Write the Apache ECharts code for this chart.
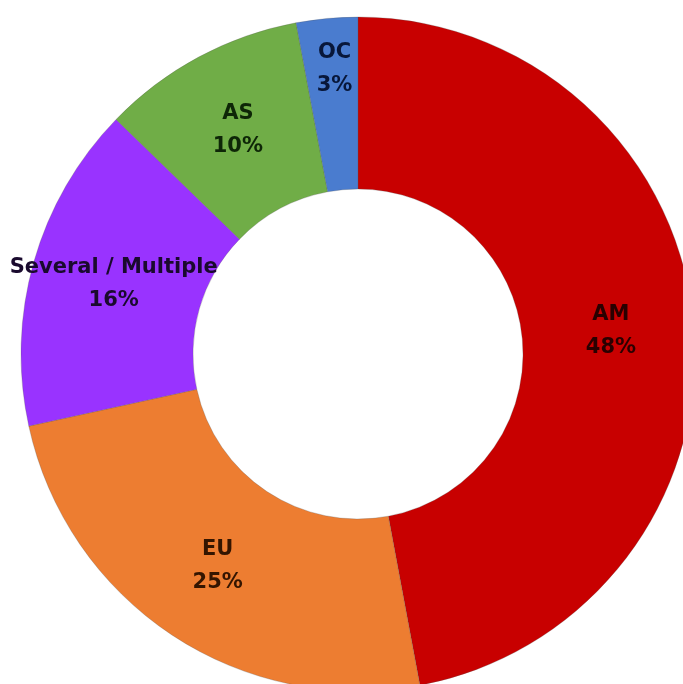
<!DOCTYPE html>
<html>
<head>
<meta charset="utf-8">
<script src="https://cdn.jsdelivr.net/npm/echarts@6/dist/echarts.min.js"></script>
<style>
  html, body { margin: 0; padding: 0; background: #ffffff; }
  #chart { width: 683px; height: 684px; }
</style>
</head>
<body>
<div id="chart"></div>
<script>
// Regions, clockwise from 12 o'clock
const regions = ['AM', 'EU', 'Several / Multiple', 'AS', 'OC'];
// Share of items per region, in percent
const shares = [48, 25, 16, 10, 3];
const sliceColors = ['#C80000', '#ED7D31', '#9933FF', '#70AD47', '#4A7CCF'];
const labelColors = ['#2a0000', '#341500', '#1a0a2e', '#0e2607', '#08173a'];

const chart = echarts.init(document.getElementById('chart'), null, { renderer: 'canvas' });

chart.setOption({
  animation: false,
  backgroundColor: '#ffffff',
  series: [{
    type: 'pie',
    center: [358, 354],
    radius: [165, 337],
    startAngle: 90,
    clockwise: true,
    avoidLabelOverlap: false,
    silent: true,
    itemStyle: {
      borderColor: 'rgba(80,80,80,0.25)',
      borderWidth: 1
    },
    label: {
      show: true,
      position: 'inside',
      fontFamily: 'DejaVu Sans',
      fontWeight: 'bold',
      fontSize: 21,
      lineHeight: 33,
      align: 'center',
      formatter: p => p.name + '\n' + p.value + '%'
    },
    labelLayout: function (params) {
      // the thin OC slice carries its label further out
      if (params.dataIndex === 4) return { dy: -32 };
      return {};
    },
    labelLine: { show: false },
    data: regions.map((name, i) => ({
      name: name,
      value: shares[i],
      itemStyle: { color: sliceColors[i] },
      label: { color: labelColors[i] }
    }))
  }]
});
</script>
</body>
</html>
